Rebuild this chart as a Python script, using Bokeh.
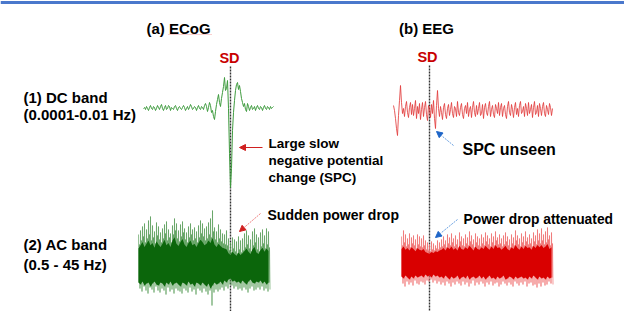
from bokeh.plotting import figure
from bokeh.models import Range1d, Arrow, NormalHead
from bokeh.core.properties import value
from bokeh.embed import file_html
from bokeh.resources import INLINE

# ---------------- data (amplitudes, arbitrary units, + = up) ----------------
# (a) ECoG, DC band, 1 sample per step
ecog_dc = [
    0, 1, -1, 2, 0, -2, 1, 3, 0, -1,
    2, 1, -2, 0, 3, 1, -1, 2, 4, 0,
    -2, 1, 3, -1, 0, 3, 2, -2, 1, 0,
    -1, 2, 3, 0, -2, 1, 2, 0, -1, 1,
    3, 1, -2, 0, 2, -1, 1, 4, 2, -1,
    0, 2, 1, -2, 1, 3, 0, -1, 2, 1,
    -1, 3, 5, 2, -3, 1, 6, 3, -4, -2,
    -8, -11, -3, 4, 9, 14, 6, 2, 10, 16,
    22, 31, 18, 20, 28, 0, -45, -79, -60, -22,
    -4, 8, 18, 24, 26, 19, 23, 17, 10, 6,
    2, 5, -1, -3, 5, 2, -2, 1, 3, -1,
    0, 2, -2, 1, 3, 0, -1, 2, 1, -2,
    1, 3, 0, -1, 2, 1, -1, 2, 0, 1, 2,
]
ecog_sd_sample = 87

# (b) EEG, DC band
eeg_dc = [
    5, 0, -8, -18, -25, -5, 10, 25, 8, -3,
    2, -6, 4, 9, -2, -7, 3, 8, -4, 6,
    -5, 2, 10, -8, 4, -3, 7, -9, 1, 8,
    -6, 3, 9, -4, -10, 5, 2, -7, 6, -3,
    10, -8, -18, 5, 20, 2, -6, 4, -2, -9,
    3, 7, -4, -8, 2, 6, -5, 1, 8, -3,
    -7, 4, 2, -6, 9, -2, -5, 3, 7, -4,
    -8, 2, 5, -3, 8, -6, 1, 4, -7, 3,
    9, -2, -6, 5, -4, 2, 8, -5, -3, 6,
    -8, 3, 7, -2, -5, 4, 9, -6, 1, 5,
    -4, -7, 6, 2, -3, 8, -5, 3, 7, -6,
    2, 5, -4, -8, 4, 9, -2, -5, 6, 1,
    -7, 3, 8, -4, 2, -6, 5, 9, -3, -1,
    4, -6, 7, 2, -5, 8, -3, 1, 6, -7,
    3, 9, -4, -2, 5, -6, 7, 2, -5, 4,
    8, -3, -6, 5, 1, -4, 7, 3, -5, 2,
]
eeg_sd_sample = 36

# (a) ECoG, AC band envelopes (per sample: light spikes / dark core)
ecog_ac_light_top = [
    30, 34, 38, 41, 35, 44, 48, 39, 33, 42,
    38, 32, 36, 40, 43, 35, 31, 39, 46, 41,
    34, 40, 43, 36, 32, 38, 41, 35, 37, 33,
    39, 44, 41, 36, 38, 42, 46, 54, 37, 33,
    40, 35, 31, 30, 34, 26, 22, 27, 25, 23,
    28, 24, 26, 31, 34, 29, 25, 33, 36, 30,
    27, 32, 35, 29, 36, 33,
]
ecog_ac_dark_top = [
    20, 24, 28, 22, 26, 30, 24, 27, 21, 29,
    25, 22, 26, 31, 24, 27, 22, 30, 34, 26,
    23, 28, 32, 25, 22, 27, 30, 24, 26, 22,
    27, 31, 28, 24, 26, 30, 27, 33, 25, 22,
    26, 23, 21, 20, 19, 14, 12, 16, 13, 11,
    15, 12, 14, 17, 20, 16, 13, 19, 22, 15,
    13, 18, 21, 16, 20, 17,
]
ecog_ac_dark_bot = [
    -18, -20, -17, -21, -19, -18, -22, -19, -17, -20,
    -21, -18, -19, -22, -18, -20, -17, -21, -19, -18,
    -20, -22, -18, -19, -21, -17, -20, -19, -22, -18,
    -19, -21, -18, -20, -22, -19, -24, -21, -18, -20,
    -19, -17, -20, -16, -18, -15, -14, -17, -16, -18,
    -17, -19, -16, -18, -20, -17, -15, -18, -19, -17,
    -18, -16, -19, -17, -20, -18,
]
ecog_ac_light_bot = [
    -24, -27, -22, -26, -29, -23, -25, -28, -22, -26,
    -28, -24, -26, -30, -23, -27, -25, -29, -24, -26,
    -27, -29, -24, -26, -28, -23, -27, -25, -30, -24,
    -26, -28, -24, -27, -30, -26, -41, -28, -25, -27,
    -25, -23, -26, -22, -24, -20, -21, -24, -22, -25,
    -24, -26, -23, -25, -28, -24, -22, -26, -25, -23,
    -25, -22, -26, -24, -27, -25,
]

# (b) EEG, AC band envelopes
eeg_ac_light_top = [
    26, 32, 28, 24, 29, 25, 27, 23, 28, 26,
    24, 27, 22, 20, 18, 21, 19, 17, 22, 20,
    23, 26, 22, 28, 25, 29, 24, 27, 23, 30,
    26, 24, 28, 25, 31, 27, 23, 29, 26, 24,
    28, 25, 30, 27, 24, 29, 26, 31, 25, 28,
    24, 27, 30, 26, 23, 28, 25, 32, 27, 24,
    29, 26, 31, 25, 28, 24, 30, 27, 33, 29,
    34, 28, 31, 35, 27, 30,
]
eeg_ac_dark_top = [
    17, 20, 16, 18, 15, 19, 17, 14, 18, 16,
    15, 17, 13, 12, 11, 13, 12, 14, 13, 15,
    16, 18, 15, 19, 17, 20, 16, 18, 15, 21,
    17, 16, 19, 17, 21, 18, 15, 20, 17, 16,
    19, 17, 21, 18, 16, 20, 17, 22, 18, 19,
    16, 18, 21, 17, 15, 19, 17, 22, 18, 16,
    20, 17, 21, 18, 19, 16, 21, 18, 22, 19,
    22, 18, 20, 23, 17, 19,
]
eeg_ac_dark_bot = [
    -14, -16, -13, -15, -17, -14, -16, -13, -15, -14,
    -13, -15, -12, -14, -13, -15, -12, -14, -13, -15,
    -14, -16, -13, -15, -17, -14, -16, -15, -13, -17,
    -15, -14, -16, -13, -17, -15, -14, -16, -15, -13,
    -16, -14, -17, -15, -13, -16, -15, -17, -14, -16,
    -15, -13, -17, -16, -14, -15, -17, -14, -16, -15,
    -14, -16, -15, -17, -14, -16, -13, -15, -17, -14,
    -16, -15, -17, -14, -16, -15,
]
eeg_ac_light_bot = [
    -21, -24, -19, -22, -20, -23, -18, -21, -22, -19,
    -20, -22, -18, -19, -17, -20, -18, -21, -19, -22,
    -20, -23, -19, -21, -24, -20, -22, -19, -21, -23,
    -19, -22, -20, -24, -21, -18, -23, -20, -22, -19,
    -21, -24, -20, -22, -19, -23, -21, -20, -24, -22,
    -19, -21, -23, -20, -22, -24, -19, -21, -23, -20,
    -22, -19, -24, -21, -20, -23, -22, -25, -21, -24,
    -20, -23, -22, -19, -21, -22,
]

# ---------------- figure (canvas range in picture pixels) ----------------
PX0, PX1, PY0, PY1 = 0, 624, 0, 311
p = figure(width=PX1 - PX0, height=PY1 - PY0, output_backend="svg", toolbar_location=None,
           x_range=Range1d(PX0, PX1), y_range=Range1d(PY1, PY0),
           x_axis_location=None, y_axis_location=None, min_border=0,
           outline_line_color=None, background_fill_color="white", border_fill_color="white")
p.grid.visible = False


def add_ranges(name, n, x_first, x_last, y_base):
    step = (x_last - x_first) / (n - 1)
    p.extra_x_ranges[name] = Range1d((PX0 - x_first) / step, (PX1 - x_first) / step)
    p.extra_y_ranges[name] = Range1d(y_base - PY1, y_base - PY0)


add_ranges("ecog_dc", len(ecog_dc), 143, 273, 108)
add_ranges("eeg_dc", len(eeg_dc), 393, 552, 110)
add_ranges("ecog_ac", len(ecog_ac_dark_top), 138, 268, 264)
add_ranges("eeg_ac", len(eeg_ac_dark_top), 401, 551, 262)

FONT = value("Liberation Sans")


def label(x, y, txt, size, color="black", align="left"):
    p.text(x=[x], y=[y], text=[txt], text_font=FONT, text_font_style="bold",
           text_font_size=f"{size}px", text_color=color, text_align=align,
           text_baseline="middle")


def noise_path(lt, lb, dt, db):
    """Visit light-top, dark-bottom, dark-top, light-bottom within each sample."""
    xs, ys = [], []
    for i in range(len(lt)):
        xs += [i, i + 0.25, i + 0.5, i + 0.75]
        ys += [lt[i], db[i], dt[i], lb[i]]
    return xs, ys


# top blue rule
p.segment(x0=[PX0], x1=[PX1], y0=[2], y1=[2], line_color="#4a78cc", line_width=3)

# SD dotted markers
p.segment(x0=[ecog_sd_sample], x1=[ecog_sd_sample], y0=[66], y1=[PY1],
          x_range_name="ecog_dc", line_color="#333333", line_width=1.4, line_dash="2 1")
p.segment(x0=[eeg_sd_sample], x1=[eeg_sd_sample], y0=[65], y1=[PY1],
          x_range_name="eeg_dc", line_color="#333333", line_width=1.4, line_dash="2 1")

# DC traces
p.line(x=list(range(len(ecog_dc))), y=ecog_dc, x_range_name="ecog_dc", y_range_name="ecog_dc",
       line_color="#3f9b3f", line_width=1)
p.line(x=list(range(len(eeg_dc))), y=eeg_dc, x_range_name="eeg_dc", y_range_name="eeg_dc",
       line_color="#e23c3c", line_width=0.85)

# AC traces: light spikes + solid dark core with ragged edge
zx, zy = noise_path(ecog_ac_light_top, ecog_ac_light_bot, ecog_ac_dark_top, ecog_ac_dark_bot)
p.line(x=zx, y=zy, x_range_name="ecog_ac", y_range_name="ecog_ac",
       line_color="#4f984f", line_alpha=0.7, line_width=0.9)
t1 = list(range(len(ecog_ac_dark_top)))
p.varea(x=t1, y1=ecog_ac_dark_bot, y2=[v * 0.8 for v in ecog_ac_dark_top], x_range_name="ecog_ac",
        y_range_name="ecog_ac", fill_color="#0b660b")

zx, zy = noise_path(eeg_ac_light_top, eeg_ac_light_bot, eeg_ac_dark_top, eeg_ac_dark_bot)
p.line(x=zx, y=zy, x_range_name="eeg_ac", y_range_name="eeg_ac",
       line_color="#ee6a6a", line_alpha=0.75, line_width=0.9)
t2 = list(range(len(eeg_ac_dark_top)))
p.varea(x=t2, y1=eeg_ac_dark_bot, y2=[v * 0.8 for v in eeg_ac_dark_top], x_range_name="eeg_ac",
        y_range_name="eeg_ac", fill_color="#d90000")

# titles
label(178, 27.5, "(a) ECoG", 15, align="center")
label(426, 27.5, "(b) EEG", 15, align="center")
p.segment(x0=[168], x1=[211], y0=[34], y1=[34], line_color="#f2a0a0", line_width=1, line_dash="1 1")
label(229, 57, "SD", 14.5, color="#c80000", align="center")
label(427, 56, "SD", 14.5, color="#c80000", align="center")

# band labels
label(23, 96.5, "(1) DC band", 15)
label(23, 113.5, "(0.0001-0.01 Hz)", 15)
label(23, 243.5, "(2) AC band", 15)
label(23, 263.5, "(0.5 - 45 Hz)", 15)

# annotations
label(268, 143, "Large slow", 13.5)
label(268, 160, "negative potential", 13.5)
label(268, 176.5, "change (SPC)", 13.5)
label(267, 214, "Sudden power drop", 14)
label(462, 149, "SPC unseen", 16)
label(463, 218.5, "Power drop attenuated", 13.8)


def arrow(xs, ys, xe, ye, color, head_color, dash):
    p.add_layout(Arrow(end=NormalHead(size=6, fill_color=head_color, line_color=head_color),
                       x_start=xs, y_start=ys, x_end=xe, y_end=ye,
                       line_color=color, line_width=1, line_dash=dash))


arrow(262, 147, 239, 147, "#d02020", "#d02020", "solid")
arrow(260, 213, 239, 231, "#ee8080", "#d02020", "2 1")
arrow(453, 145, 436, 131, "#6aa0e0", "#1f66c8", "2 1")
arrow(457, 219, 435, 237, "#6aa0e0", "#1f66c8", "2 1")

open("out.html", "w").write(file_html(p, INLINE))
